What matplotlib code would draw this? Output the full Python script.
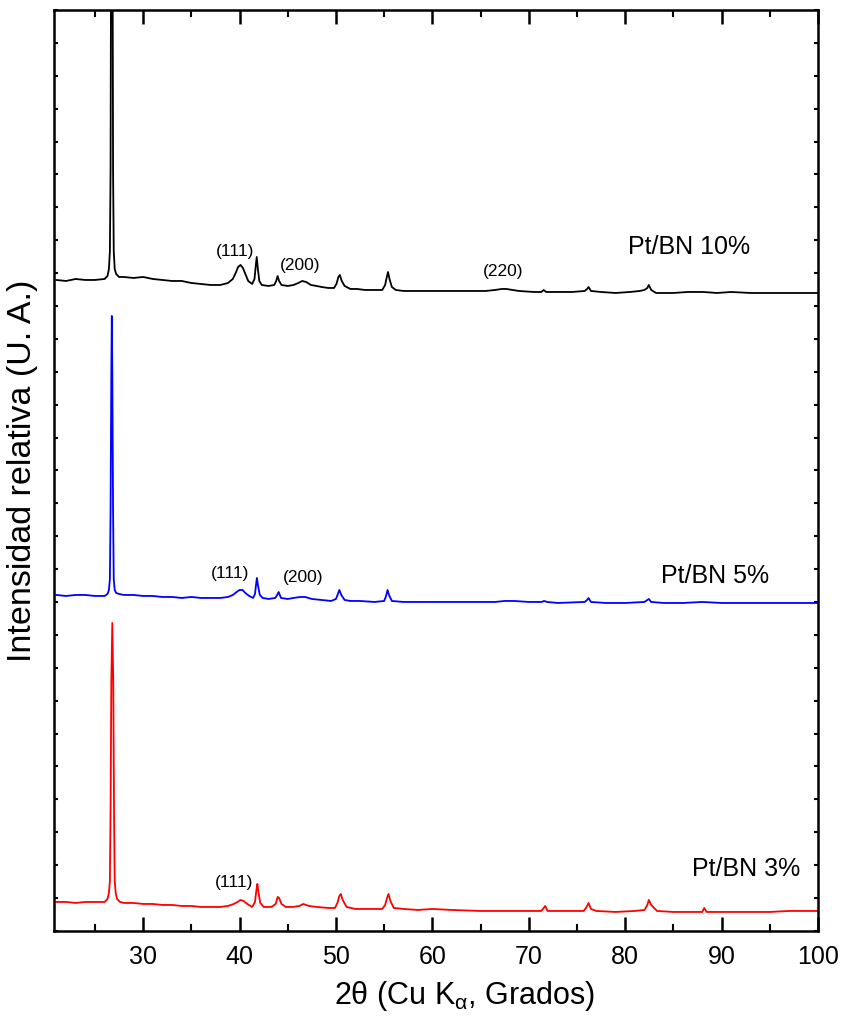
import matplotlib
matplotlib.use("Agg")
import matplotlib.pyplot as plt
from matplotlib.ticker import MultipleLocator, NullFormatter

plt.rcParams["font.family"] = ["Liberation Sans", "DejaVu Sans"]
plt.rcParams["mathtext.fontset"] = "custom"
plt.rcParams["mathtext.rm"] = "Liberation Sans"

# patrones DRX (2theta, intensidad en u.a. con desplazamiento)
x_10 = [21, 22, 23, 24, 25, 26, 26.3, 26.45, 26.55, 26.62, 26.7, 26.8, 26.88, 26.95, 27.05, 27.2,
        27.5, 28, 29, 30, 31, 32, 33, 34, 35, 36, 37, 38, 38.8, 39.3, 39.6, 39.85, 40.1, 40.35,
        40.6, 40.9, 41.3, 41.55, 41.68, 41.78, 41.9, 42.05, 42.3, 43.0, 43.6, 43.8, 43.95, 44.1,
        44.35, 45.0, 45.6, 46.1, 46.5, 46.9, 47.4, 48.0, 48.5, 49.2, 49.8, 50.05, 50.25, 50.4,
        50.6, 50.9, 51.5, 52.2, 53, 54, 54.8, 55.1, 55.25, 55.4, 55.55, 55.8, 56.2, 57, 58, 60,
        62, 64, 65.5, 66.5, 67.2, 67.7, 68.3, 69, 70.5, 71.3, 71.55, 71.8, 73, 74.5, 75.8, 76.05,
        76.2, 76.45, 77.5, 79, 80.5, 81.5, 82.0, 82.3, 82.45, 82.7, 83.2, 85, 86.5, 88.1, 89.5,
        91, 93, 95, 97, 100]
y_10 = [651, 650, 652, 651, 651, 652, 655, 662, 680, 760, 1100, 1100, 760, 680, 662, 657,
        654, 654, 653, 654, 652, 651, 650, 650, 648, 647, 646, 646, 648, 652, 658, 664, 666, 663,
        657, 650, 647, 652, 665, 674, 662, 650, 646, 645, 646, 650, 655, 650,
        646, 645, 646, 648, 650, 649, 646, 645, 644, 643, 643, 647, 654, 656,
        650, 645, 642, 642, 641, 641, 641, 646, 653, 659, 652, 644, 641, 640, 640, 640,
        640, 640, 640, 641, 642, 642, 641, 640, 639, 639, 641, 639, 639, 639, 640, 642,
        644, 640, 639, 638, 639, 640, 641, 643, 646, 641, 638, 638, 639, 639, 638,
        639, 638, 638, 638, 638]

x_5 = [21, 22, 23, 24, 25, 26, 26.3, 26.45, 26.55, 26.62, 26.7, 26.75, 26.8, 26.88, 26.95,
       27.05, 27.2, 27.5, 28, 29, 30, 31, 32, 33, 34, 35, 36, 37, 38, 38.8, 39.3, 39.7, 40.0,
       40.3, 40.6, 41.0, 41.4, 41.6, 41.72, 41.8, 41.92, 42.1, 42.4, 43.0, 43.7, 43.9, 44.05,
       44.3, 45, 45.6, 46.3, 46.8, 47.5, 48.5, 49.5, 50.0, 50.2, 50.35, 50.55, 50.9, 51.5, 52.5,
       54, 55.0, 55.2, 55.35, 55.5, 55.8, 57, 59, 61, 63, 65, 66.5, 67.5, 68.5, 70, 71.3, 71.6,
       71.9, 73, 75.8, 76.05, 76.2, 76.45, 78, 80, 82, 82.3, 82.45, 82.7, 84, 86, 88, 90, 92, 95,
       97, 100]
y_5 = [336, 335, 336, 336, 335, 335, 337, 341, 352, 420, 560, 615, 560, 420, 352,
       341, 338, 337, 336, 336, 335, 335, 334, 334, 333, 334, 333, 333, 333, 334, 336, 339, 341,
       341, 338, 335, 333, 337, 347, 353, 345, 336, 333, 332, 333, 336, 339,
       333, 332, 333, 334, 334, 332, 331, 330, 332, 337, 341, 336, 331, 330, 330,
       329, 330, 335, 341, 336, 330, 329, 329, 329, 329, 329, 329, 330, 330, 329, 329, 330,
       329, 328, 329, 331, 333, 329, 328, 328, 329, 331, 332, 329, 328, 328, 329, 328, 328, 328,
       328, 328]

x_3 = [21, 22, 23, 24, 25, 26, 26.3, 26.45, 26.55, 26.62, 26.7, 26.8, 26.9, 26.98, 27.05,
       27.15, 27.3, 27.6, 28, 29, 30, 31, 32, 33, 34, 35, 36, 37, 38, 38.8, 39.4, 39.8, 40.1,
       40.4, 40.8, 41.3, 41.6, 41.75, 41.85, 41.97, 42.15, 42.5, 43.3, 43.75, 43.95, 44.1, 44.35,
       44.8, 45.5, 46.2, 46.6, 47.2, 48, 49.2, 49.9, 50.15, 50.35, 50.5, 50.7, 51.1, 52, 53.5,
       54.8, 55.1, 55.3, 55.45, 55.65, 56.0, 57, 58.5, 60, 62, 65, 68, 70, 71.3, 71.55, 71.7,
       71.95, 73, 75.7, 76.0, 76.2, 76.45, 77, 79, 81, 82.0, 82.3, 82.45, 82.7, 83.3, 85, 87,
       88.0, 88.2, 88.45, 90, 92, 95, 97, 100]
y_3 = [29, 29, 28, 29, 29, 29, 32, 38, 50, 120, 250, 308, 250, 120, 50,
       38, 32, 29, 28, 28, 27, 27, 26, 26, 25, 25, 24, 24, 24, 25, 27, 29, 31,
       30, 27, 24, 29, 41, 47, 38, 28, 24, 24, 27, 34, 33, 27,
       24, 24, 25, 27, 25, 24, 23, 23, 28, 35, 37, 31, 24, 22, 22,
       22, 26, 33, 37, 30, 23, 22, 21, 22, 21, 20, 20, 20, 20, 23, 25,
       20, 20, 20, 24, 28, 22, 20, 19, 20, 21, 26, 31, 26, 20, 19, 19,
       19, 23, 19, 19, 19, 19, 20, 20]

series_names = ["Pt/BN 10%", "Pt/BN 5%", "Pt/BN 3%"]
series_colors = ["black", "blue", "red"]
name_pos = [(80.3, 684), (83.7, 355), (86.9, 62)]

# indices de Miller: (texto, 2theta, altura)
hkl_10 = [("(111)", 39.5, 679), ("(200)", 46.3, 665), ("(220)", 67.3, 659)]
hkl_5 = [("(111)", 39.0, 357), ("(200)", 46.6, 353)]
hkl_3 = [("(111)", 39.4, 48)]

fig = plt.figure(figsize=(8.46, 10.19), dpi=100)
ax = fig.add_axes([0.0638, 0.0864, 0.9031, 0.9038])

for xs, ys, c in zip([x_10, x_5, x_3], [y_10, y_5, y_3], series_colors):
    ax.plot(xs, ys, color=c, lw=1.3)

for name, (tx, ty) in zip(series_names, name_pos):
    ax.text(tx, ty, name, fontsize=18, va="center", ha="left")

for lab, tx, ty in hkl_10 + hkl_5 + hkl_3:
    ax.text(tx, ty, lab, fontsize=12.5, va="center", ha="center")

ax.set_xlim(20.75, 100)
ax.set_ylim(0, 921)
ax.xaxis.set_major_locator(MultipleLocator(10))
ax.xaxis.set_minor_locator(MultipleLocator(5))
ax.yaxis.set_major_locator(MultipleLocator(921 / 28))
ax.yaxis.set_major_formatter(NullFormatter())
ax.tick_params(axis="x", which="major", direction="in", length=10, width=1.8,
               labelsize=18, pad=10, top=True)
ax.tick_params(axis="x", which="minor", direction="in", length=5, width=1.5, top=True)
ax.tick_params(axis="y", which="major", direction="in", length=3, width=1.5, right=True)
for s in ax.spines.values():
    s.set_linewidth(1.8)

ax.set_xlabel("2θ (Cu K$_{\\mathrm{α}}$, Grados)", fontsize=22)
ax.xaxis.set_label_coords(0.538, -0.052)
ax.set_ylabel("Intensidad relativa (U. A.)", fontsize=24.5, labelpad=8)

fig.savefig("out.png", dpi=100)
